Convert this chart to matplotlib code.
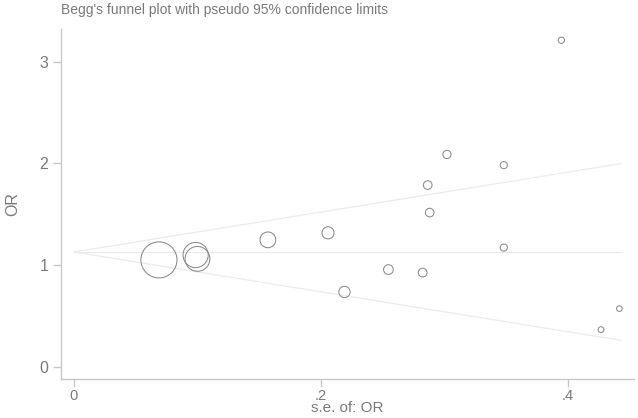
import matplotlib
matplotlib.use("Agg")
import matplotlib.pyplot as plt
import numpy as np

plt.rcParams['font.family'] = ['Liberation Sans', 'DejaVu Sans']

# Study data: standard error of OR and OR
se = [0.0688, 0.0985, 0.1000, 0.157, 0.2057, 0.219, 0.2546, 0.2823,
      0.2864, 0.288, 0.302, 0.348, 0.348, 0.3946, 0.4267, 0.4416]
orv = [1.052, 1.100, 1.062, 1.249, 1.318, 0.737, 0.957, 0.927,
       1.787, 1.517, 2.088, 1.983, 1.173, 3.21, 0.367, 0.573]
pooled = 1.13
se_max = 0.4430

xticks = [0, 0.2, 0.4]
xticklabels = ["0", ".2", ".4"]
yticks = [0, 1, 2, 3]
yticklabels = ["0", "1", "2", "3"]

txt = "#7a7a7a"
spine = "#c8c8c8"

se_a = np.array(se)
or_a = np.array(orv)

fig = plt.figure(figsize=(6.38, 4.18), dpi=100)
ax = fig.add_axes([0.0956, 0.0933, 0.8981, 0.8373])

# funnel lines
xs = np.array([0, se_max])
ax.plot(xs, [pooled, pooled], color="#ebebeb", lw=0.9, zorder=1)
ax.plot(xs, pooled + 1.96 * xs, color="#ebebeb", lw=0.9, zorder=1)
ax.plot(xs, pooled - 1.96 * xs, color="#ebebeb", lw=0.9, zorder=1)

sizes = (1.786 / se_a) ** 2
ax.scatter(se_a, or_a, s=sizes, facecolors="none", edgecolors="#8a8a8a",
           linewidths=0.75, zorder=2)

ax.set_xlim(-0.0105, 0.4534)
ax.set_ylim(-0.118, 3.32)
ax.set_xticks(xticks)
ax.set_xticklabels(xticklabels)
ax.set_yticks(yticks)
ax.set_yticklabels(yticklabels)

for s in ["top", "right"]:
    ax.spines[s].set_visible(False)
for s in ["left", "bottom"]:
    ax.spines[s].set_color(spine)
    ax.spines[s].set_linewidth(1.0)

ax.tick_params(axis="both", colors=spine, labelcolor=txt, labelsize=11.5,
               length=6, width=1.0, pad=3)
ax.tick_params(axis="x", pad=1, labelsize=10.5)
ax.set_xlabel("s.e. of: OR", color=txt, fontsize=11, labelpad=-1)
ax.set_ylabel("OR", color=txt, fontsize=11.5, labelpad=14)
fig.text(0.0956, 0.975, "Begg's funnel plot with pseudo 95% confidence limits",
         color=txt, fontsize=10, ha="left", va="center")

fig.savefig("out.png", dpi=100)
